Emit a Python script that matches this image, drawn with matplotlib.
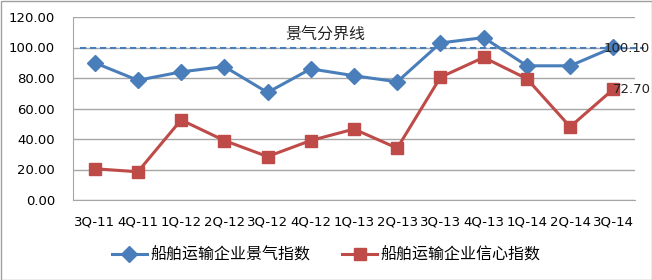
import matplotlib
matplotlib.use("Agg")
import matplotlib.pyplot as plt
from matplotlib.patches import Rectangle

plt.rcParams['font.family'] = ['Noto Sans CJK SC', 'DejaVu Sans']

categories = ["3Q-11", "4Q-11", "1Q-12", "2Q-12", "3Q-12", "4Q-12", "1Q-13",
              "2Q-13", "3Q-13", "4Q-13", "1Q-14", "2Q-14", "3Q-14"]
prosperity = [90.0, 78.5, 84.0, 87.5, 70.5, 86.0, 81.5, 77.5, 103.0, 106.5, 88.0, 88.0, 100.10]
confidence = [20.5, 18.5, 52.5, 39.0, 28.5, 39.0, 46.5, 34.0, 80.5, 93.5, 79.5, 48.0, 72.70]
threshold = 100.0
series_names = ["船舶运输企业景气指数", "船舶运输企业信心指数"]
threshold_label = "景气分界线"
yticks = [0, 20, 40, 60, 80, 100, 120]

blue = "#4A7EBB"
red = "#BE4B48"
num_font = ["DejaVu Sans"]

fig = plt.figure(figsize=(6.52, 2.8), dpi=100)
ax = fig.add_axes([73/652, 1-200/280, (635-73)/652, (200-17)/280])

x = list(range(len(categories)))
l1, = ax.plot(x, prosperity, color=blue, lw=2.2, marker="D", ms=8, label=series_names[0], zorder=3)
l2, = ax.plot(x, confidence, color=red, lw=2.2, marker="s", ms=8, label=series_names[1], zorder=3)

ax.plot([-0.34, 12.7], [threshold, threshold], color=blue, lw=1.5, ls=(0, (3, 1.8)), clip_on=False, zorder=2)
ax.text(5.33, threshold + 2.5, threshold_label, fontsize=11.5, ha="center", va="bottom", color="#222222")

ax.text(11.78, prosperity[-1] - 0.5, f"{prosperity[-1]:.2f}", fontsize=9.5, ha="left", va="center",
        color="#222222", family=num_font, zorder=4)
ax.text(11.98, confidence[-1] - 0.5, f"{confidence[-1]:.2f}", fontsize=9.5, ha="left", va="center",
        color="#222222", family=num_font, zorder=4)

ax.set_xlim(-0.5, len(categories) - 0.5)
ax.set_ylim(0, 120)
ax.set_yticks(yticks)
ax.set_yticklabels([f"{v:.2f}" for v in yticks], fontsize=9.5, family=num_font)
ax.set_xticks(x)
ax.set_xticklabels(categories, fontsize=9.5, family=num_font)
ax.tick_params(axis="y", length=0, pad=13)
ax.tick_params(axis="x", length=0, pad=11)
ax.yaxis.grid(True, color="#A6A6A6", lw=1)
ax.set_axisbelow(True)
for s in ["top", "right"]:
    ax.spines[s].set_visible(False)
ax.spines["left"].set_color("#A6A6A6")
ax.spines["bottom"].set_color("#A6A6A6")

fig.legend(handles=[l1, l2], loc="center", bbox_to_anchor=(0.5, 1-255/280), ncol=2,
           frameon=False, fontsize=11.5, handlelength=2.2, handletextpad=0.2, columnspacing=2.0)

fig.patches.append(Rectangle((0.5/652, 0.5/280), 1-1/652, 1-1/280, transform=fig.transFigure,
                             fill=False, edgecolor="#A0A0A0", lw=1))

fig.savefig("out.png", dpi=100)
